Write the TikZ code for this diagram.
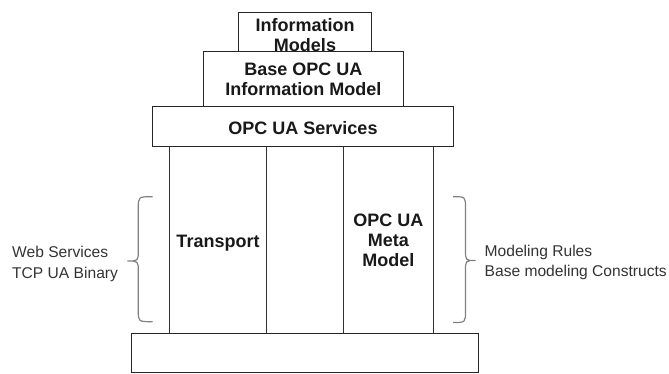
\documentclass[tikz,border=0pt]{standalone}
\usepackage{fontspec}
\setmainfont{Liberation Sans}
\begin{document}
\begin{tikzpicture}[x=1pt,y=-1pt,
  box/.style={draw=black!85, line width=1pt, fill=white},
  colline/.style={draw=black!80, line width=1pt},
  btxt/.style={font=\fontsize{18}{20}\selectfont\bfseries, align=center, inner sep=0pt, text=black!90},
  rtxt/.style={font=\fontsize{15.6}{20.5}\selectfont, align=left, inner sep=0pt, text=black!80},
  brace/.style={draw=black!50, line width=1.2pt}]
\useasboundingbox (0,0) rectangle (669,374);
% stacked boxes
\draw[box] (238.3,12.5) rectangle (371.7,52);
\draw[box] (203.3,52) rectangle (403.3,106.7);
\draw[box] (152.7,106.7) rectangle (453.3,146.7);
% columns
\coordinate (c1t) at (169.3,146.7); \coordinate (c1b) at (169.3,333.3);
\coordinate (c2t) at (266.7,146.7); \coordinate (c2b) at (266.7,333.3);
\coordinate (c3t) at (343.3,146.7); \coordinate (c3b) at (343.3,333.3);
\coordinate (c4t) at (433.3,146.7); \coordinate (c4b) at (433.3,333.3);
\draw[colline] (c1t) -- (c1b);
\draw[colline] (c2t) -- (c2b);
\draw[colline] (c3t) -- (c3b);
\draw[colline] (c4t) -- (c4b);
% base box
\draw[box] (131,333.3) rectangle (478.3,372.7);
% braces
\draw[brace] (152.7,196.7) .. controls (138.3,196.7) .. (138.3,208) -- (138.3,250)
  .. controls (138.3,261) .. (127.3,261) .. controls (138.3,261) .. (138.3,272)
  -- (138.3,311) .. controls (138.3,321.7) .. (152.7,321.7);
\draw[brace] (453,196.7) .. controls (465.5,196.7) .. (465.5,208) -- (465.5,250)
  .. controls (465.5,260.5) .. (475.5,260.5) .. controls (465.5,260.5) .. (465.5,271)
  -- (465.5,311) .. controls (465.5,322.5) .. (453,322.5);
% texts
\node[btxt] (info) at (305,34.7) {Information\\Models};
\node[btxt] (base) at (303.3,79.8) {Base OPC UA\\Information Model};
\node[btxt] (svc) at (303,128) {OPC UA Services};
\node[btxt] (tr) at (218,243) {Transport};
\node[btxt] (meta) at (388.3,240.6) {OPC UA\\Meta\\Model};
\node[rtxt, anchor=west] (ws) at (12,264) {Web Services\\TCP UA Binary};
\node[rtxt, anchor=west] (mr) at (484.5,262.5) {Modeling Rules\\Base modeling Constructs};
\end{tikzpicture}
\end{document}
